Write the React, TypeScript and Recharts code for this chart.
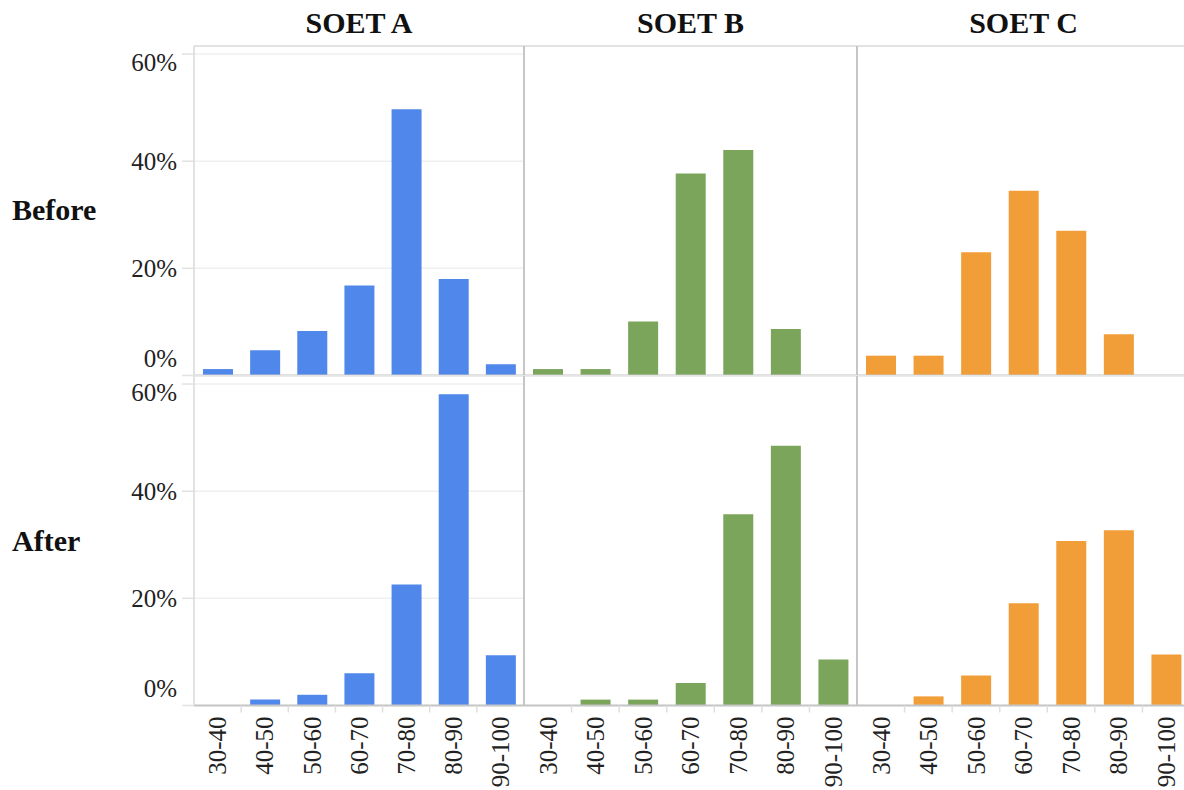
import { BarChart, Bar, XAxis, YAxis, CartesianGrid, ReferenceLine } from 'recharts';

const bins = ['30-40', '40-50', '50-60', '60-70', '70-80', '80-90', '90-100'];
const groups = ['SOET A', 'SOET B', 'SOET C'];
const stages = ['Before', 'After'];
const pctTicks = [0, 20, 40, 60];

// share of students per score band (%)
const soetABefore = [1.2, 4.7, 8.3, 16.8, 49.7, 18.0, 2.1];
const soetBBefore = [1.2, 1.2, 10.1, 37.7, 42.1, 8.7, 0];
const soetCBefore = [3.7, 3.7, 23.0, 34.5, 27.0, 7.7, 0];
const soetAAfter = [0, 1.1, 2.0, 6.0, 22.6, 58.1, 9.4];
const soetBAfter = [0, 1.1, 1.1, 4.2, 35.7, 48.5, 8.6];
const soetCAfter = [0, 1.7, 5.6, 19.1, 30.7, 32.7, 9.5];

const seriesByStage = [
  [soetABefore, soetBBefore, soetCBefore],
  [soetAAfter, soetBAfter, soetCAfter],
];

const colors = ['#5087eb', '#7aa55a', '#f29e38'];

const FONT = '"Liberation Serif", "Times New Roman", serif';
const Y_MAX = 61.5;
const PLOT_H = 329.5;

// layout of the facet grid
const colDivLeft = [0, 520, 853];
const colPlotLeft = [194, 524, 857];
const colPlotWidth = [330, 333, 333];
const rowDivTop = [40, 370];
const rowDivHeight = [340, 420];

function PctTick(props: any) {
  const { x, y, payload } = props;
  // edge labels are nudged inside the pane
  const shift = payload.value === 0 ? -17 : payload.value === 60 ? 8 : 0;
  return (
    <text x={x} y={y + shift} dy="0.35em" textAnchor="end" fontSize={25} fontFamily={FONT} fill="#222">
      {`${payload.value}%`}
    </text>
  );
}

function makeBinTick(halfBand: number) {
  return function BinTick(props: any) {
    const { x, y, payload, index } = props;
    const axisY = y - 11;
    const off = payload.offset ?? halfBand;
    const bx = x - off;
    return (
      <g>
        {index > 0 && <line x1={bx} x2={bx} y1={axisY} y2={axisY + 7} stroke="#dedede" strokeWidth={1.5} />}
        <text
          x={x}
          y={y}
          dy="0.35em"
          transform={`rotate(-90 ${x} ${y})`}
          textAnchor="end"
          fontSize={25}
          fontFamily={FONT}
          fill="#222"
        >
          {payload.value}
        </text>
      </g>
    );
  };
}

function Pane({ row, col }: { row: number; col: number }) {
  const values = seriesByStage[row][col];
  const data = bins.map((bin, i) => ({ bin, pct: values[i] }));
  const width = colPlotLeft[col] - colDivLeft[col] + colPlotWidth[col];
  const height = rowDivHeight[row];
  const isBottom = row === 1;
  const xAxisH = isBottom ? height - 6 - PLOT_H : 0;
  const bottomMargin = isBottom ? 0 : height - 6 - PLOT_H;
  const yAxisW = colPlotLeft[col] - colDivLeft[col];
  const isLeft = col === 0;

  return (
    <div style={{ position: 'absolute', left: colDivLeft[col], top: rowDivTop[row] }}>
      <BarChart
        width={width}
        height={height}
        data={data}
        margin={{ top: 6, right: 0, left: 0, bottom: bottomMargin }}
        barSize={30}
      >
        <CartesianGrid vertical={false} stroke="#efefef" strokeWidth={1.5} />
        <XAxis
          dataKey="bin"
          hide={!isBottom}
          height={xAxisH}
          axisLine={false}
          tickLine={false}
          tickSize={6}
          tickMargin={5}
          interval={0}
          tick={makeBinTick(colPlotWidth[col] / bins.length / 2)}
        />
        <YAxis
          type="number"
          domain={[0, Y_MAX]}
          ticks={pctTicks}
          interval={0}
          width={yAxisW}
          axisLine={{ stroke: isLeft ? '#d8d8d8' : '#c6c6c6', strokeWidth: isLeft ? 1.5 : 2 }}
          tickLine={isLeft ? { stroke: '#e2e2e2', strokeWidth: 1.5 } : false}
          tickSize={12}
          tickMargin={5}
          tick={isLeft ? <PctTick /> : false}
        />
        <Bar dataKey="pct" fill={colors[col]} isAnimationActive={false} />
        {row === 0 && <ReferenceLine y={Y_MAX} stroke="#dedede" strokeWidth={1.5} ifOverflow="visible" />}
        <ReferenceLine y={0} stroke="#c6c6c6" strokeWidth={2} />
      </BarChart>
    </div>
  );
}

export default function App() {
  return (
    <div
      style={{
        position: 'absolute',
        left: 0,
        top: 0,
        width: 1184,
        height: 790,
        overflow: 'hidden',
        background: '#fff',
        fontFamily: FONT,
      }}
    >
      {groups.map((g, c) => (
        <div
          key={g}
          style={{
            position: 'absolute',
            left: colPlotLeft[c],
            width: colPlotWidth[c],
            top: 8,
            textAlign: 'center',
            fontSize: 30,
            lineHeight: '30px',
            fontWeight: 'bold',
            color: '#111',
          }}
        >
          {g}
        </div>
      ))}
      {stages.map((s, r) => (
        <div
          key={s}
          style={{
            position: 'absolute',
            left: 12,
            top: r === 0 ? 195 : 526,
            fontSize: 30,
            lineHeight: '30px',
            fontWeight: 'bold',
            color: '#111',
          }}
        >
          {s}
        </div>
      ))}
      {stages.map((s, r) => groups.map((g, c) => <Pane key={`${s}-${g}`} row={r} col={c} />))}
    </div>
  );
}
